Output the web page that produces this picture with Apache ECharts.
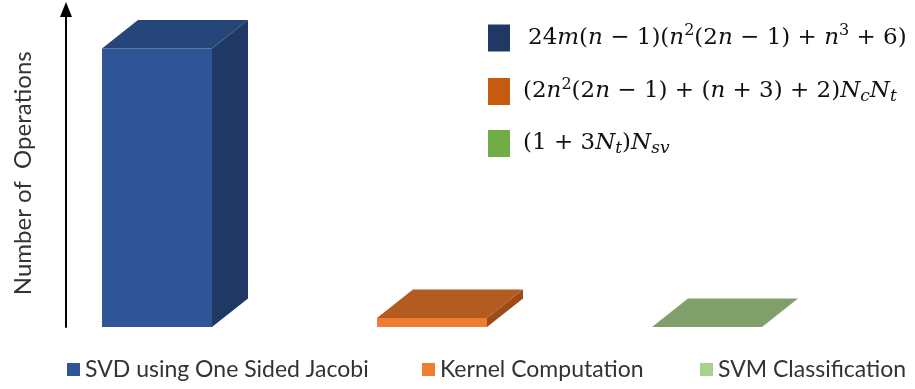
<!DOCTYPE html>
<html>
<head>
<meta charset="utf-8">
<script src="https://cdn.jsdelivr.net/npm/echarts@6/dist/echarts.min.js"></script>
<style>
  html, body { margin: 0; padding: 0; background: #fff; }
  #chart { width: 915px; height: 389px; }
</style>
</head>
<body>
<div id="chart"></div>
<script>
// Categories and relative operation counts (no scale on the axis)
const categories = ['SVD using One Sided Jacobi', 'Kernel Computation', 'SVM Classification'];
const operations = [100, 3.2, 0];

// Operation-count expressions shown next to the dark swatches
const formulas = [
  '{r1|24}{i|m}{n|(}{i|n}{n| − 1)(}{i|n}{sup|2}{n|(2}{i|n}{n| − 1) + }{i|n}{sup|3}{n| + 6)}',
  '{n|(2}{i|n}{sup|2}{n|(2}{i|n}{n| − 1) + (}{i|n}{n| + 3) + 2)}{i|N}{sub|c}{i|N}{sub|t}',
  '{n|(1 + 3}{i|N}{sub|t}{n|)}{i|N}{sub|sv}'
];

// Face colours of each prism: front, top, side
const frontColors = ['#2F5597', '#ED7D31', '#A9D18E'];
const topColors   = ['#264579', '#B45B22', '#7FA06B'];
const sideColors  = ['#1F3864', '#9C4A17', '#6A8C55'];
const swatchColors = ['#203864', '#C55A11', '#70AD47'];

const DEPTH_X = 36, DEPTH_Y = -28.5;

function renderPrism(params, api) {
  const i = params.seriesIndex;
  const base = api.coord([api.value(0), 0]);
  const top = api.coord([api.value(0), api.value(1)]);
  const w = api.size([1, 0])[0] * 0.4;
  const x0 = base[0] - w / 2, x1 = base[0] + w / 2;
  const yb = base[1], yt = top[1];
  const children = [];
  if (yb - yt > 0.5) {
    children.push({
      type: 'polygon',
      shape: { points: [[x1, yt], [x1 + DEPTH_X, yt + DEPTH_Y], [x1 + DEPTH_X, yb + DEPTH_Y], [x1, yb]] },
      style: { fill: sideColors[i] }
    });
    children.push({
      type: 'rect',
      shape: { x: x0, y: yt, width: w, height: yb - yt },
      style: { fill: frontColors[i] }
    });
  }
  children.push({
    type: 'polygon',
    shape: { points: [[x0, yt], [x0 + DEPTH_X, yt + DEPTH_Y], [x1 + DEPTH_X, yt + DEPTH_Y], [x1, yt]] },
    style: { fill: topColors[i] }
  });
  return { type: 'group', children: children };
}

const mathFont = 'DejaVu Serif';
const mathSize = 23;
const lh = 27;
const richMath = {
  n:   { fontFamily: mathFont, fontSize: mathSize, fontStyle: 'normal', color: '#111', lineHeight: lh },
  r1:  { fontFamily: mathFont, fontSize: mathSize, fontStyle: 'normal', color: '#111', lineHeight: lh, padding: [0, 0, 0, 5] },
  i:   { fontFamily: mathFont, fontSize: mathSize, fontStyle: 'italic', color: '#111', lineHeight: lh },
  sup: { fontFamily: mathFont, fontSize: 16, fontStyle: 'normal', color: '#111', lineHeight: lh, padding: [0, 0, 14, 0] },
  sub: { fontFamily: mathFont, fontSize: 17, fontStyle: 'italic', color: '#111', lineHeight: lh, padding: [10, 0, 0, 0] }
};

const bottomLegendLeft = [62, 417, 695];
const bottomLegends = categories.map((name, k) => ({
  left: bottomLegendLeft[k],
  top: 353,
  orient: 'horizontal',
  selectedMode: false,
  itemWidth: 13,
  itemHeight: 13,
  icon: 'rect',
  data: [{ name: name, itemStyle: { color: frontColors[k] } }],
  textStyle: { fontFamily: 'Lato', fontSize: 23, color: '#333' }
}));

const chart = echarts.init(document.getElementById('chart'), null, { renderer: 'canvas' });
chart.setOption({
  animation: false,
  backgroundColor: '#fff',
  grid: { left: 19.5, right: 70.5, top: 9.5, bottom: 62 },
  xAxis: {
    type: 'category',
    data: categories,
    boundaryGap: true,
    show: false
  },
  yAxis: {
    type: 'value',
    min: 0,
    max: 114,
    offset: -46.5,
    name: 'Number of  Operations',
    nameLocation: 'middle',
    nameRotate: 90,
    nameGap: 31,
    nameTextStyle: { fontFamily: 'Lato', fontSize: 24, color: '#333', padding: [0, 0, 0, -10] },
    axisLine: {
      show: true,
      symbol: ['none', 'triangle'],
      symbolSize: [12, 15],
      lineStyle: { color: '#000', width: 2 }
    },
    axisTick: { show: false },
    axisLabel: { show: false },
    splitLine: { show: false }
  },
  legend: [
    {
      orient: 'vertical',
      left: 483,
      top: 18,
      selectedMode: false,
      itemWidth: 22,
      itemHeight: 27,
      itemGap: 23.5,
      icon: 'rect',
      data: categories.map((name, k) => ({ name: name, itemStyle: { color: swatchColors[k] } })),
      formatter: function (name) { return formulas[categories.indexOf(name)]; },
      textStyle: {
        fontFamily: mathFont, fontSize: mathSize, color: '#111',
        padding: [0, 0, 0, 8],
        rich: richMath
      }
    }
  ].concat(bottomLegends),
  series: categories.map((name, k) => ({
    type: 'custom',
    name: name,
    clip: false,
    itemStyle: { color: frontColors[k] },
    renderItem: renderPrism,
    data: [[k, operations[k]]]
  }))
});
</script>
</body>
</html>
